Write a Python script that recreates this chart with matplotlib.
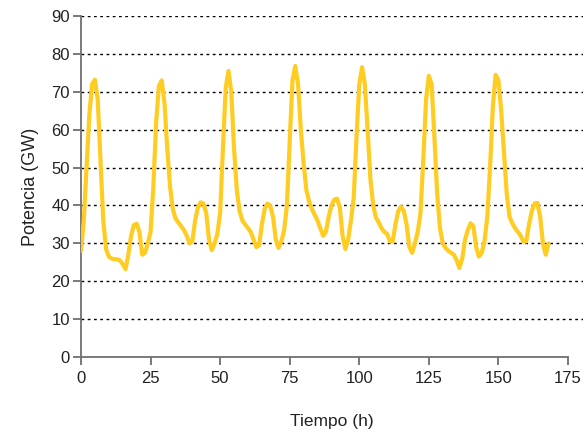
import matplotlib
matplotlib.use("Agg")
import matplotlib.pyplot as plt

hours = list(range(0, 169))
potencia = [
    28, 36, 50, 64, 72, 73.2, 68, 52, 36, 28.5,
    26.5, 26, 25.8, 25.8, 25.5, 24.5, 23.2, 27, 32, 34.8,
    35.2, 33, 27, 27.5, 30, 33, 45, 62, 71.5, 73,
    67, 55, 45, 39, 36.5, 35.5, 34.5, 33.5, 32, 30,
    30.5, 36, 39.5, 40.8, 40.5, 38, 31, 28.2, 30, 32.5,
    38, 55, 71, 75.5, 70, 55, 44, 38.5, 36, 35,
    34, 33, 31, 29, 29.5, 35, 39, 40.5, 40, 37,
    31, 28.8, 30.5, 33.5, 40, 57, 73, 76.8, 72, 60,
    51, 44, 41, 39, 37.5, 36, 34, 32, 33, 37,
    40, 41.5, 41.8, 39.5, 32, 28.5, 31, 36, 42, 58,
    72, 76.5, 72, 60, 47, 40, 36.8, 35.5, 34, 33,
    32.5, 30.5, 30.5, 35, 38.5, 39.7, 38.5, 35, 29, 27.5,
    30, 33, 38, 52, 68, 74.2, 72, 58, 43, 34,
    30, 28.8, 28, 27.5, 27, 25.5, 23.5, 26, 31, 33.5,
    35.3, 34.5, 29, 26.5, 27.5, 30.5, 37, 50, 66, 74.5,
    73, 65, 54, 43, 37, 35.3, 34, 33, 32, 30.5,
    30.5, 35, 38.5, 40.5, 40.7, 37, 30, 27, 30,
]
x_ticks = [0, 25, 50, 75, 100, 125, 150, 175]
y_ticks = [0, 10, 20, 30, 40, 50, 60, 70, 80, 90]
x_label = "Tiempo (h)"
y_label = "Potencia (GW)"

plt.rcParams['font.family'] = ['Liberation Sans', 'DejaVu Sans']

fig = plt.figure(figsize=(5.85, 4.33), dpi=100)
ax = fig.add_axes([81/585, 1-357/433, (583-81)/585, (357-16)/433])

for yv in y_ticks[1:]:
    ax.axhline(yv, color='black', lw=1.0, ls=(0, (2, 2.5)), zorder=1)

ax.plot(hours, potencia, color='#FFCC22', lw=3.0, solid_joinstyle='round',
        solid_capstyle='round', zorder=3)

ax.set_xlim(0, 180.4)
ax.set_ylim(0, 90)
ax.set_xticks(x_ticks)
ax.set_yticks(y_ticks)
ax.spines['top'].set_visible(False)
ax.spines['right'].set_visible(False)
for s in ['left', 'bottom']:
    ax.spines[s].set_color('#707070')
    ax.spines[s].set_linewidth(1.3)
ax.spines['bottom'].set_bounds(0, 175)
ax.tick_params(axis='both', direction='out', length=6, width=1.3, color='#707070',
               labelsize=12, labelcolor='#222222')
ax.tick_params(axis='x', pad=4)
ax.tick_params(axis='y', pad=2)
ax.set_xlabel(x_label, fontsize=12.5, color='#222222', labelpad=20)
ax.set_ylabel(y_label, fontsize=13, color='#222222', labelpad=9)

fig.savefig("out.png", dpi=100)
